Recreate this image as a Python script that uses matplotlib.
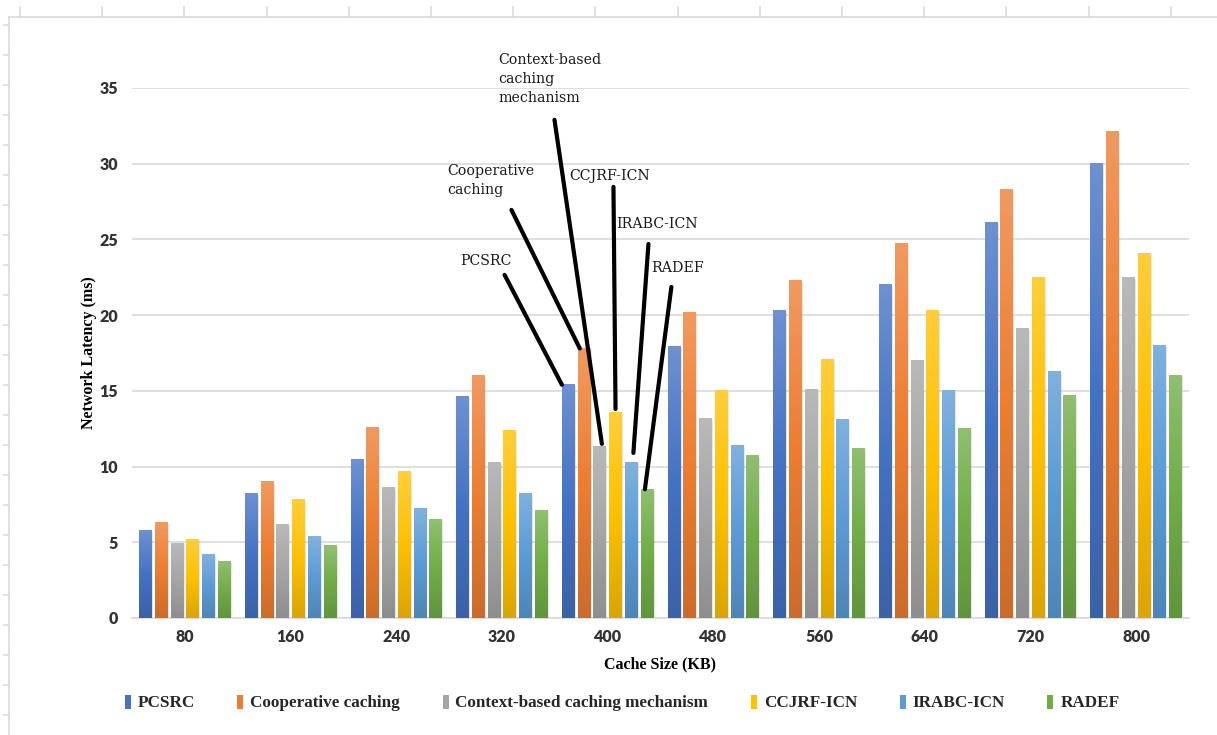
import numpy as np
import matplotlib
matplotlib.use('Agg')
import matplotlib.pyplot as plt
from matplotlib.colors import to_rgb
from matplotlib.patches import Patch, Rectangle
from matplotlib.lines import Line2D


# Network latency (ms) per cache size
cache_sizes = ['80', '160', '240', '320', '400', '480', '560', '640', '720', '800']
series_names = ['PCSRC', 'Cooperative caching', 'Context-based caching mechanism',
                'CCJRF-ICN', 'IRABC-ICN', 'RADEF']
pcsrc = [5.8, 8.2, 10.5, 14.6, 15.4, 17.9, 20.3, 22.0, 26.1, 30.0]
cooperative = [6.3, 9.0, 12.6, 16.0, 17.8, 20.2, 22.3, 24.7, 28.3, 32.1]
context_based = [4.9, 6.2, 8.6, 10.3, 11.3, 13.2, 15.1, 17.0, 19.1, 22.5]
ccjrf = [5.2, 7.8, 9.7, 12.4, 13.6, 15.0, 17.1, 20.3, 22.5, 24.1]
irabc = [4.2, 5.4, 7.2, 8.2, 10.3, 11.4, 13.1, 15.0, 16.3, 18.0]
radef = [3.7, 4.8, 6.5, 7.1, 8.5, 10.7, 11.2, 12.5, 14.7, 16.0]
all_series = [pcsrc, cooperative, context_based, ccjrf, irabc, radef]
colors = ['#4472C4', '#ED7D31', '#A5A5A5', '#FFC000', '#5B9BD5', '#70AD47']

W, H = 1217, 735
fig = plt.figure(figsize=(W / 100, H / 100), dpi=100)
fig.patch.set_facecolor('white')

# faint worksheet grid behind the chart
sheet = '#DADADA'
fig.add_artist(Line2D([9 / W, 1], [1 - 17 / H, 1 - 17 / H], color=sheet, lw=1.2))
fig.add_artist(Line2D([9 / W, 9 / W], [0, 1 - 17 / H], color=sheet, lw=1.2))
for cx in np.arange(20, W, 82.2):
    fig.add_artist(Line2D([cx / W, cx / W], [1 - 7 / H, 1 - 17 / H], color=sheet, lw=1.2))
for ry in np.arange(25, H, 30):
    fig.add_artist(Line2D([4 / W, 9 / W], [1 - ry / H, 1 - ry / H], color=sheet, lw=1.2))

ax = fig.add_axes([132 / W, 117 / H, 1057 / W, 530 / H])
ax.set_facecolor('white')

step = 0.149
width = 0.12
x = np.arange(len(cache_sizes))


def gradient_bar(xc, h, color):
    base = np.array(to_rgb(color))
    top = base + (1 - base) * 0.22
    bot = base * 0.86
    t = np.linspace(0, 1, 80)[:, None]
    lower = bot + (base - bot) * np.clip(t / 0.5, 0, 1)
    upper = base + (top - base) * np.clip((t - 0.5) / 0.5, 0, 1)
    rgb = np.where(t < 0.5, lower, upper)
    img = rgb[:, None, :]
    # soft shadow on the right side
    ax.add_patch(Rectangle((xc - width / 2 + 0.012, 0), width, h - 0.1,
                           color='#7F7F7F', alpha=0.18, lw=0, zorder=2))
    ax.imshow(img, extent=(xc - width / 2, xc + width / 2, 0, h), origin='lower',
              aspect='auto', interpolation='bilinear', zorder=3)


for i, (vals, c) in enumerate(zip(all_series, colors)):
    offs = (i - 2.5) * step
    for xi, v in zip(x, vals):
        gradient_bar(xi + offs, v, c)

ax.set_xlim(-0.5, 9.5)
ax.set_ylim(0, 35)
ax.set_yticks(np.arange(0, 36, 5))
ax.set_xticks(x)
ax.set_xticklabels(cache_sizes)
ax.yaxis.grid(True, color='#D9D9D9', lw=1.2, zorder=0)
ax.set_axisbelow(True)
for s in ['top', 'right', 'left']:
    ax.spines[s].set_visible(False)
ax.spines['bottom'].set_color('#D9D9D9')
ax.spines['bottom'].set_linewidth(1.2)
ax.tick_params(length=0, labelsize=11.5, labelcolor='#333333')
ax.tick_params(axis='x', pad=8)
ax.tick_params(axis='y', pad=10)
for lab in ax.get_xticklabels() + ax.get_yticklabels():
    lab.set_fontfamily('Lato')
    lab.set_fontweight('heavy')

ax.set_xlabel('Cache Size (KB)', fontfamily='Liberation Serif', fontweight='bold',
              fontsize=11.5, labelpad=8)
ax.set_ylabel('Network Latency (ms)', fontfamily='Liberation Serif', fontweight='bold',
              fontsize=11.5, labelpad=2)

# callouts on the 400 KB group
callouts = [
    # series, label, text position, ha, line start, end shift (dx, dy)
    (0, 'PCSRC', (2.845, 23.6), 'center', (3.025, 22.66), (-0.06, 0.0)),
    (1, 'Cooperative\ncaching', (2.486, 28.9), 'left', (3.09, 26.95), (-0.04, 0.0)),
    (2, 'Context-based\ncaching\nmechanism', (2.968, 35.6), 'left', (3.497, 32.9), (0.02, 0.2)),
    (3, 'CCJRF-ICN', (4.017, 29.2), 'center', (4.055, 28.47), (0.0, 0.2)),
    (4, 'IRABC-ICN', (4.471, 26.0), 'center', (4.386, 24.7), (0.02, 0.6)),
    (5, 'RADEF', (4.66, 23.1), 'center', (4.603, 21.86), (-0.02, 0.0)),
]
g = 4
for si, text, tpos, ha, start, shift in callouts:
    bx = g + (si - 2.5) * step + shift[0]
    by = all_series[si][g] + shift[1]
    ax.annotate('', xy=(bx, by), xytext=start,
                arrowprops=dict(arrowstyle='-', lw=3.0, color='black',
                                shrinkA=0, shrinkB=0), zorder=6)
    ax.text(tpos[0], tpos[1], text, ha=ha, va='center', fontsize=10.2,
            fontfamily='DejaVu Serif', color='#1A1A1A', linespacing=1.45,
            zorder=7, clip_on=False)

handles = [Patch(facecolor=c, edgecolor='none') for c in colors]
leg = fig.legend(handles, series_names, loc='center', ncol=6,
                 bbox_to_anchor=(622 / W, 1 - 703 / H), frameon=False,
                 prop={'family': 'Liberation Serif', 'weight': 'bold', 'size': 12.3},
                 handlelength=0.35, handleheight=0.9, handletextpad=0.4,
                 columnspacing=2.5)
for t in leg.get_texts():
    t.set_color('#262626')

fig.savefig('out.png', dpi=100, facecolor='white')
